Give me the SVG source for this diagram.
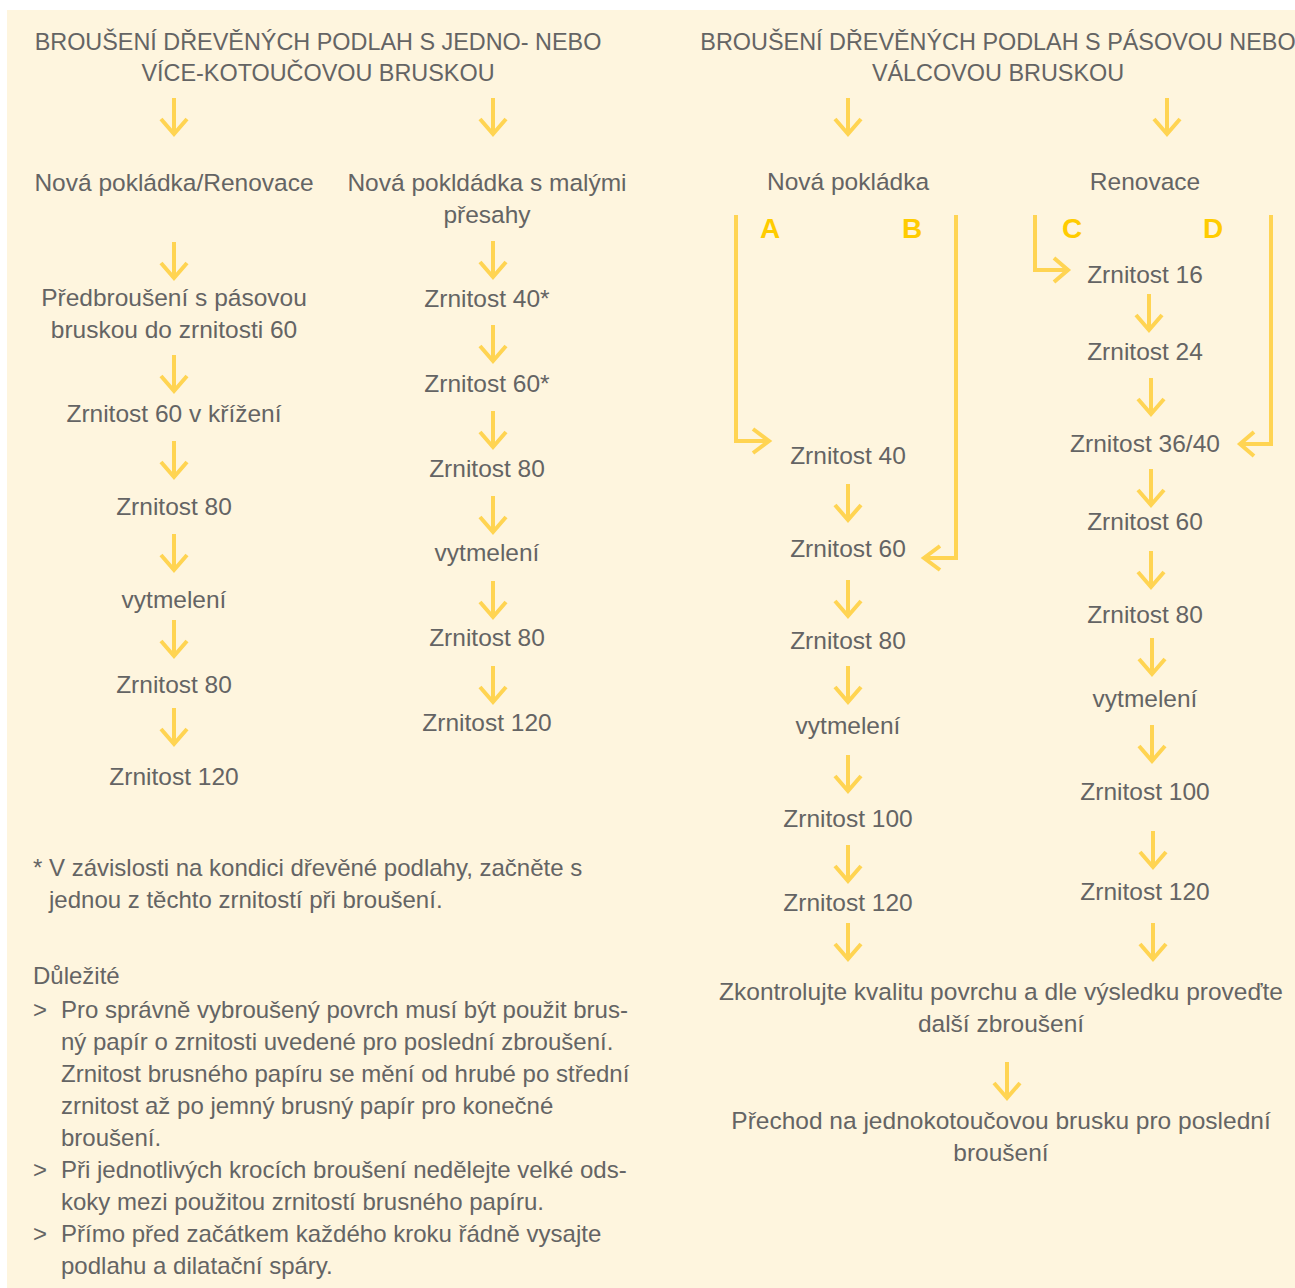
<svg xmlns="http://www.w3.org/2000/svg" xmlns:xlink="http://www.w3.org/1999/xlink" width="1295" height="1288" viewBox="0 0 1295 1288">
<style>
  text { font-family: "Liberation Sans", Arial, sans-serif; fill: #646464; font-size: 24.5px; }
  .c { text-anchor: middle; }
  .t { font-size: 23.4px; }
  .n { font-size: 24px; }
  .lt { font-family: "Liberation Sans", Arial, sans-serif; font-weight: bold; font-size: 28px; fill: #FFCC00; text-anchor: middle; }
  .conn path, .conn use { fill: none; stroke: #FFD452; stroke-width: 4; stroke-linejoin: miter; stroke-linecap: butt; }
</style>
<defs>
  <path id="ad" d="M0,0 V36 M-13,21 L0,36 L13,21" />
</defs>
<rect x="7" y="10" width="1288" height="1278" fill="#FEF5DE" />

<g id="connectors" class="conn">
  <use xlink:href="#ad" href="#ad" x="174" y="98" />
  <use xlink:href="#ad" href="#ad" x="493" y="98" />
  <use xlink:href="#ad" href="#ad" x="848" y="98" />
  <use xlink:href="#ad" href="#ad" x="1167" y="98" />
  <use xlink:href="#ad" href="#ad" x="174" y="242" />
  <use xlink:href="#ad" href="#ad" x="174" y="355" />
  <use xlink:href="#ad" href="#ad" x="174" y="441" />
  <use xlink:href="#ad" href="#ad" x="174" y="534" />
  <use xlink:href="#ad" href="#ad" x="174" y="620" />
  <use xlink:href="#ad" href="#ad" x="174" y="708" />
  <use xlink:href="#ad" href="#ad" x="493" y="241" />
  <use xlink:href="#ad" href="#ad" x="493" y="325" />
  <use xlink:href="#ad" href="#ad" x="493" y="411" />
  <use xlink:href="#ad" href="#ad" x="493" y="496" />
  <use xlink:href="#ad" href="#ad" x="493" y="581" />
  <use xlink:href="#ad" href="#ad" x="493" y="666" />
  <use xlink:href="#ad" href="#ad" x="848" y="484" />
  <use xlink:href="#ad" href="#ad" x="848" y="580" />
  <use xlink:href="#ad" href="#ad" x="848" y="666" />
  <use xlink:href="#ad" href="#ad" x="848" y="755" />
  <use xlink:href="#ad" href="#ad" x="848" y="845" />
  <use xlink:href="#ad" href="#ad" x="848" y="923" />
  <use xlink:href="#ad" href="#ad" x="1149" y="294" />
  <use xlink:href="#ad" href="#ad" x="1151" y="378" />
  <use xlink:href="#ad" href="#ad" x="1151" y="469" />
  <use xlink:href="#ad" href="#ad" x="1151" y="551" />
  <use xlink:href="#ad" href="#ad" x="1152" y="638" />
  <use xlink:href="#ad" href="#ad" x="1152" y="725" />
  <use xlink:href="#ad" href="#ad" x="1153" y="831" />
  <use xlink:href="#ad" href="#ad" x="1153" y="923" />
  <use xlink:href="#ad" href="#ad" x="1007" y="1062" />
  <path id="lineA" d="M736,215 V441 H769 M753,429 L769,441 L753,453" />
  <path id="lineB" d="M956,215 V558 H924 M940,546 L924,558 L940,570" />
  <path id="lineC" d="M1035,215 V270 H1068 M1054,258 L1068,270 L1054,282" />
  <path id="lineD" d="M1271,215 V444 H1240 M1254,432 L1240,444 L1254,456" />
</g>

<g id="title-left">
  <text class="c t" x="318" y="50">BROUŠENÍ DŘEVĚNÝCH PODLAH S JEDNO- NEBO</text>
  <text class="c t" x="318" y="81">VÍCE-KOTOUČOVOU BRUSKOU</text>
</g>
<g id="title-right">
  <text class="c t" x="998" y="50">BROUŠENÍ DŘEVĚNÝCH PODLAH S PÁSOVOU NEBO</text>
  <text class="c t" x="998" y="81">VÁLCOVOU BRUSKOU</text>
</g>

<g id="col1">
  <g id="n1-0"><text class="c" x="174" y="191">Nová pokládka/Renovace</text></g>
  <g id="n1-1"><text class="c" x="174" y="306">Předbroušení s pásovou</text><text class="c" x="174" y="338">bruskou do zrnitosti 60</text></g>
  <g id="n1-2"><text class="c" x="174" y="422">Zrnitost 60 v křížení</text></g>
  <g id="n1-3"><text class="c" x="174" y="515">Zrnitost 80</text></g>
  <g id="n1-4"><text class="c" x="174" y="608">vytmelení</text></g>
  <g id="n1-5"><text class="c" x="174" y="693">Zrnitost 80</text></g>
  <g id="n1-6"><text class="c" x="174" y="785">Zrnitost 120</text></g>
</g>

<g id="col2">
  <g id="n2-0"><text class="c" x="487" y="191">Nová pokldádka s malými</text><text class="c" x="487" y="223">přesahy</text></g>
  <g id="n2-1"><text class="c" x="487" y="307">Zrnitost 40*</text></g>
  <g id="n2-2"><text class="c" x="487" y="392">Zrnitost 60*</text></g>
  <g id="n2-3"><text class="c" x="487" y="477">Zrnitost 80</text></g>
  <g id="n2-4"><text class="c" x="487" y="561">vytmelení</text></g>
  <g id="n2-5"><text class="c" x="487" y="646">Zrnitost 80</text></g>
  <g id="n2-6"><text class="c" x="487" y="731">Zrnitost 120</text></g>
</g>

<g id="col3">
  <g id="n3-0"><text class="c" x="848" y="190">Nová pokládka</text></g>
  <g id="lA"><text class="lt" x="770" y="238">A</text></g>
  <g id="lB"><text class="lt" x="912" y="238">B</text></g>
  <g id="n3-1"><text class="c" x="848" y="464">Zrnitost 40</text></g>
  <g id="n3-2"><text class="c" x="848" y="557">Zrnitost 60</text></g>
  <g id="n3-3"><text class="c" x="848" y="649">Zrnitost 80</text></g>
  <g id="n3-4"><text class="c" x="848" y="734">vytmelení</text></g>
  <g id="n3-5"><text class="c" x="848" y="827">Zrnitost 100</text></g>
  <g id="n3-6"><text class="c" x="848" y="911">Zrnitost 120</text></g>
</g>

<g id="col4">
  <g id="n4-0"><text class="c" x="1145" y="190">Renovace</text></g>
  <g id="lC"><text class="lt" x="1072" y="238">C</text></g>
  <g id="lD"><text class="lt" x="1213" y="238">D</text></g>
  <g id="n4-1"><text class="c" x="1145" y="283">Zrnitost 16</text></g>
  <g id="n4-2"><text class="c" x="1145" y="360">Zrnitost 24</text></g>
  <g id="n4-3"><text class="c" x="1145" y="452">Zrnitost 36/40</text></g>
  <g id="n4-4"><text class="c" x="1145" y="530">Zrnitost 60</text></g>
  <g id="n4-5"><text class="c" x="1145" y="623">Zrnitost 80</text></g>
  <g id="n4-6"><text class="c" x="1145" y="707">vytmelení</text></g>
  <g id="n4-7"><text class="c" x="1145" y="800">Zrnitost 100</text></g>
  <g id="n4-8"><text class="c" x="1145" y="900">Zrnitost 120</text></g>
</g>

<g id="final-check"><text class="c" x="1001" y="1000">Zkontrolujte kvalitu povrchu a dle výsledku proveďte</text><text class="c" x="1001" y="1032">další zbroušení</text></g>
<g id="final-step"><text class="c" x="1001" y="1129">Přechod na jednokotoučovou brusku pro poslední</text><text class="c" x="1001" y="1161">broušení</text></g>

<g id="footnote">
  <text class="n" x="33" y="876">* V závislosti na kondici dřevěné podlahy, začněte s</text>
  <text class="n" x="49" y="908">jednou z těchto zrnitostí při broušení.</text>
</g>

<g id="important">
  <text class="n" x="33" y="984">Důležité</text>
  <text class="n" x="33" y="1018">&gt;</text>
  <text class="n" x="61" y="1018">Pro správně vybroušený povrch musí být použit brus-</text>
  <text class="n" x="61" y="1050">ný papír o zrnitosti uvedené pro poslední zbroušení.</text>
  <text class="n" x="61" y="1082">Zrnitost brusného papíru se mění od hrubé po střední</text>
  <text class="n" x="61" y="1114">zrnitost až po jemný brusný papír pro konečné</text>
  <text class="n" x="61" y="1146">broušení.</text>
  <text class="n" x="33" y="1178">&gt;</text>
  <text class="n" x="61" y="1178">Při jednotlivých krocích broušení nedělejte velké ods-</text>
  <text class="n" x="61" y="1210">koky mezi použitou zrnitostí brusného papíru.</text>
  <text class="n" x="33" y="1242">&gt;</text>
  <text class="n" x="61" y="1242">Přímo před začátkem každého kroku řádně vysajte</text>
  <text class="n" x="61" y="1274">podlahu a dilatační spáry.</text>
</g>
</svg>
